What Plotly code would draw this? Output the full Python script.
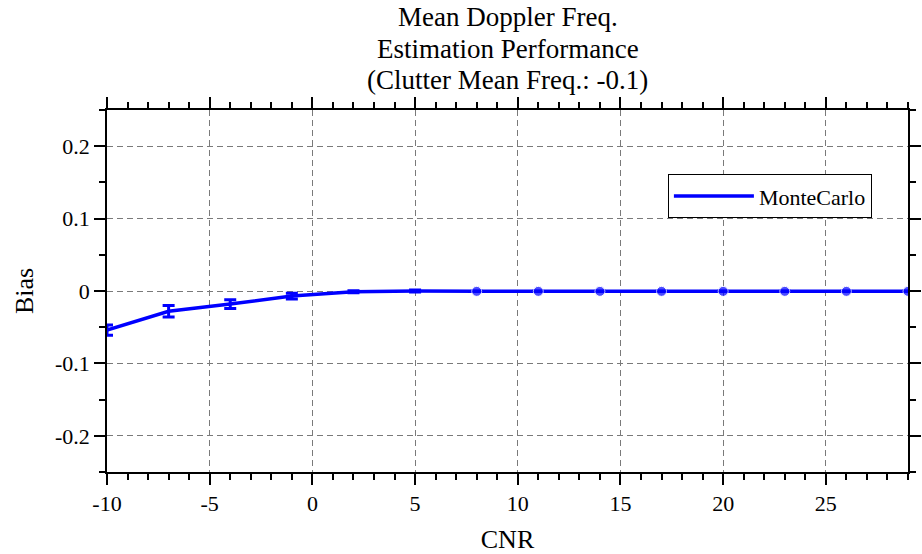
import plotly.graph_objects as go

# Data
cnr = [-10, -7, -4, -1, 2, 5, 8, 11, 14, 17, 20, 23, 26, 29]
bias = [-0.054, -0.028, -0.018, -0.007, -0.001, 0.0, -0.0005, -0.0005, -0.0005, -0.0005, -0.0005, -0.0005, -0.0005, -0.0005]
bias_err = [0.007, 0.008, 0.006, 0.004, 0.0015, 0.0015, 0, 0, 0, 0, 0, 0, 0, 0]

x_tickvals = [-10, -5, 0, 5, 10, 15, 20, 25]
x_ticktext = ["-10", "-5", "0", "5", "10", "15", "20", "25"]
y_tickvals = [-0.2, -0.1, 0, 0.1, 0.2]
y_ticktext = ["-0.2", "-0.1", "0", "0.1", "0.2"]

title_lines = ["Mean Doppler Freq.", "Estimation Performance", "(Clutter Mean Freq.: -0.1)"]
series_name = "MonteCarlo"

FONT = "Liberation Serif, Times New Roman, serif"
BLUE = "#0000FF"

marker_sizes = [0 if e > 0 else 10 for e in bias_err]

fig = go.Figure()
fig.add_trace(go.Scatter(
    x=cnr, y=bias, mode="lines+markers", name=series_name, showlegend=False,
    line=dict(color=BLUE, width=3.5),
    marker=dict(color=BLUE, size=marker_sizes),
    error_y=dict(type="data", array=bias_err, visible=True, color=BLUE, thickness=3, width=6),
))
# legend entry (line only, as in the reference)
fig.add_trace(go.Scatter(
    x=[None], y=[None], mode="lines", name=series_name,
    line=dict(color=BLUE, width=3.5),
))

axis_common = dict(
    showline=True, linecolor="black", linewidth=1.5,
    ticks="outside", ticklen=11, tickwidth=1.5, tickcolor="black",
    mirror="allticks", automargin=False,
    showgrid=True, gridcolor="#7a7a7a", gridwidth=1, griddash="6px,4px",
    zeroline=False,
    tickfont=dict(family=FONT, size=22, color="black"),
)

fig.update_xaxes(
    **axis_common,
    range=[-10, 29], tickmode="array", tickvals=x_tickvals, ticktext=x_ticktext,
    minor=dict(dtick=1, tick0=0, ticks="outside", ticklen=6, tickwidth=1.5, tickcolor="black", showgrid=False),
    title=dict(text="CNR", font=dict(family=FONT, size=26, color="black"), standoff=16),
)
fig.update_yaxes(
    **axis_common,
    range=[-0.25, 0.25], tickmode="array", tickvals=y_tickvals, ticktext=y_ticktext,
    minor=dict(dtick=0.05, tick0=0, ticks="outside", ticklen=6, tickwidth=1.5, tickcolor="black", showgrid=False),
    title=dict(text="Bias", font=dict(family=FONT, size=26, color="black"), standoff=14),
)

# Title as three centred lines above the plot area
title_shifts = [93, 61.5, 30]
for line, shift in zip(title_lines, title_shifts):
    fig.add_annotation(text=line, x=0.5, y=1, xref="paper", yref="paper",
                       xanchor="center", yanchor="middle", yshift=shift, showarrow=False,
                       font=dict(family=FONT, size=27, color="black"))

fig.update_layout(
    width=922, height=554,
    margin=dict(l=107, r=14, t=110, b=82),
    paper_bgcolor="white", plot_bgcolor="white",
    showlegend=True,
    legend=dict(x=0.700, y=0.823, xanchor="left", yanchor="top",
                bordercolor="black", borderwidth=1.2, bgcolor="white",
                font=dict(family=FONT, size=22, color="black"),
                itemwidth=80, entrywidth=212),
)

fig.write_html("out.html")
